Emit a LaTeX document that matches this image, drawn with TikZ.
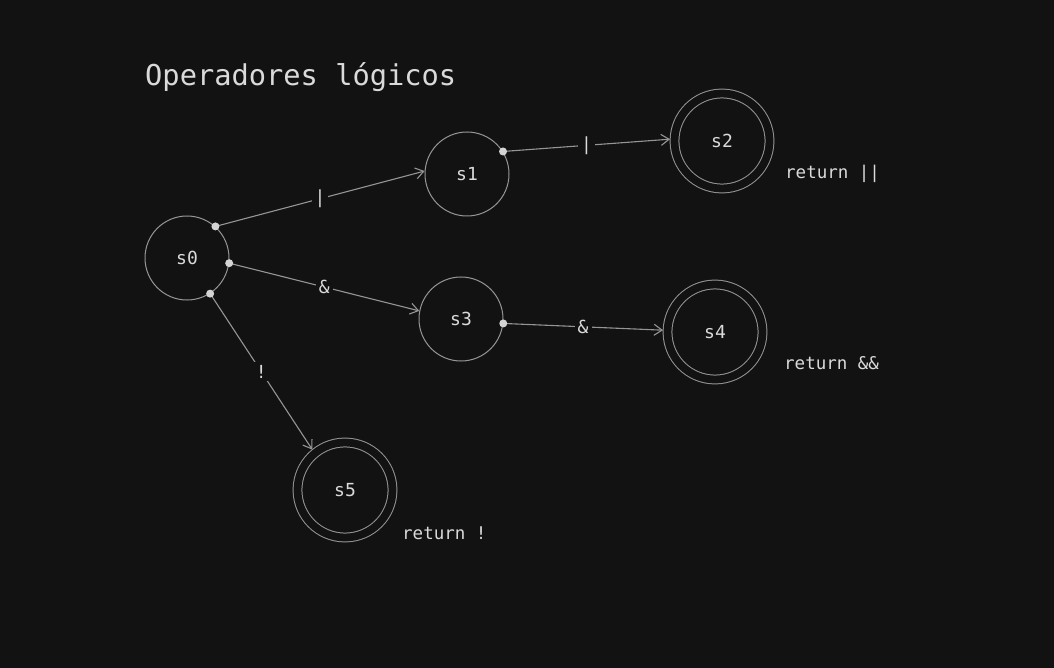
\documentclass[tikz,border=0pt]{standalone}
\usepackage{fontspec}
\setmainfont{DejaVu Sans Mono}
\usetikzlibrary{arrows.meta}

\definecolor{bgdark}{HTML}{121212}
\definecolor{edgegray}{HTML}{959595}
\definecolor{textgray}{HTML}{DADADA}
\definecolor{dotgray}{HTML}{D4D4D4}

\tikzset{
  state/.style={circle, draw=edgegray, line width=1pt, minimum size=84pt,
    inner sep=0pt, text=textgray, font=\fontsize{18}{21}\selectfont},
  accept/.style={state, double=bgdark, double distance=7.8pt,
    minimum size=95pt, outer sep=4.5pt},
  trans/.style={draw=edgegray, line width=1.1pt,
    -{Straight Barb[length=8pt,width=11pt]}},
  sym/.style={fill=bgdark, text=textgray, inner sep=3pt,
    font=\fontsize{18}{21}\selectfont},
  retlabel/.style={text=textgray, anchor=base west, inner sep=0pt,
    font=\fontsize{17.5}{21}\selectfont},
}

\begin{document}
\begin{tikzpicture}[x=1pt,y=-1pt]
  \fill[bgdark] (0,0) rectangle (1054,668);
  \useasboundingbox (0,0) rectangle (1054,668);

  \node[text=textgray, anchor=base west, inner sep=0pt,
    font=\fontsize{28.7}{34}\selectfont] (title) at (145,86) {Operadores lógicos};

  % states
  \node[state] (s0) at (187,258) {s0};
  \node[state] (s1) at (467,174) {s1};
  \node[accept] (s2) at (722,141) {s2};
  \node[state] (s3) at (461,319) {s3};
  \node[accept] (s4) at (715,332) {s4};
  \node[accept] (s5) at (345,490) {s5};

  % transitions
  \draw[trans] (s0.48) -- node[sym] {|} (s1.176);
  \draw[trans] (s0.-7) -- node[sym] {\&} (s3.169);
  \draw[trans] (s0.-57) -- node[sym] {!} (s5.129);
  \draw[trans] (s1.32) -- node[sym] {|} (s2.178);
  \draw[trans] (s3.-6) -- node[sym] {\&} (s4.178);

  \fill[dotgray] (s0.48) circle (4pt);
  \fill[dotgray] (s0.-7) circle (4pt);
  \fill[dotgray] (s0.-57) circle (4pt);
  \fill[dotgray] (s1.32) circle (4pt);
  \fill[dotgray] (s3.-6) circle (4pt);

  % returned tokens
  \node[retlabel] (ret2) at (785,179) {return ||};
  \node[retlabel] (ret4) at (784,369) {return \&\&};
  \node[retlabel] (ret5) at (402,539) {return !};
\end{tikzpicture}
\end{document}
